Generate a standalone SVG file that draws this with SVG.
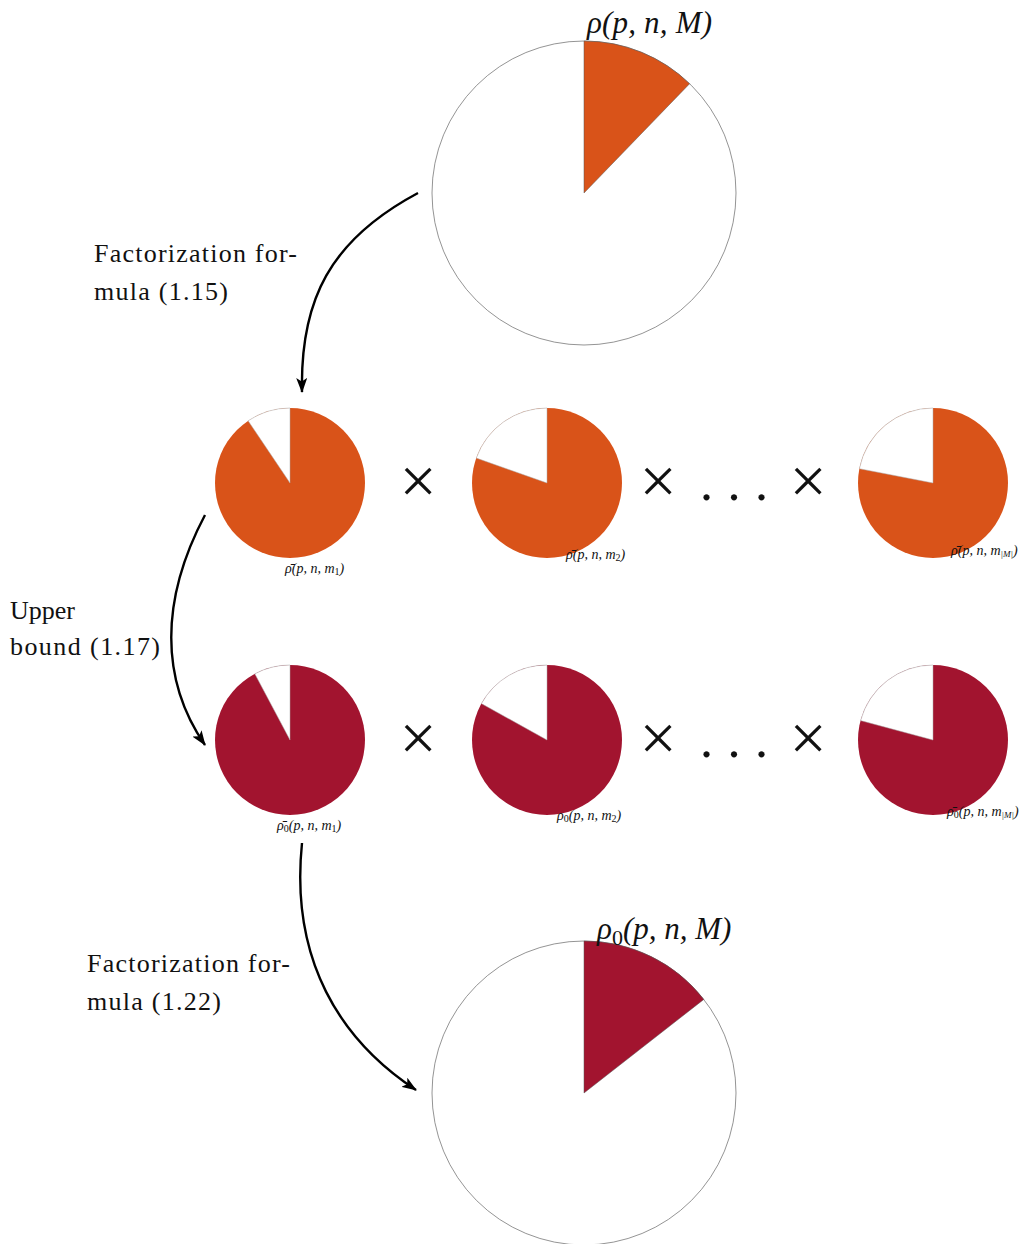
<svg xmlns="http://www.w3.org/2000/svg" width="1031" height="1244" viewBox="0 0 1031 1244">
<style>
.lbl{font-family:"Liberation Serif","DejaVu Serif",serif;font-size:26px;fill:#111}
.m{font-family:"Liberation Serif","DejaVu Serif",serif;font-style:italic;fill:#111}
.big{font-size:31px}
.sm{font-size:14px}
.up{font-style:normal}
.op{font-family:"Liberation Serif",serif;font-size:66px;fill:#111;text-anchor:middle}
.dots{font-family:"Liberation Serif",serif;font-size:52px;fill:#111}
.org{fill:#D95319}
.red{fill:#A2142F}
.wh{fill:#fff;stroke:#aaa;stroke-width:0.5}
.outline{fill:#fff;stroke:#666;stroke-width:0.7}
.conn{fill:none;stroke:#000;stroke-width:2.4}
</style>
<defs>
<marker id="ah" viewBox="0 0 15 11" refX="14" refY="5.5" markerWidth="15" markerHeight="11" markerUnits="userSpaceOnUse" orient="auto">
<path d="M0,0 L15,5.5 L0,11 L3.5,5.5 Z" fill="#000"/>
</marker>
</defs>

<g id="pie-top">
<circle class="outline" cx="584" cy="193" r="152"/>
<path class="org" d="M584,193 L584,41 A152,152 0 0 1 689.6,83.7 Z" stroke="#555" stroke-width="0.5"/>
<text class="m big" x="587" y="33" textLength="125">ρ(p, n, M)</text>
</g>

<g id="pie-r1-1">
<circle class="org" cx="290" cy="483" r="75"/>
<path class="wh" d="M290,483 L290,408 A75,75 0 0 0 248.1,420.8 Z"/>
<text class="m sm" x="285" y="573">ρ̄(p, n, m<tspan class="up" font-size="10" dy="2">1</tspan><tspan dy="-2">)</tspan></text>
</g>
<g id="pie-r1-2">
<circle class="org" cx="547" cy="483" r="75"/>
<path class="wh" d="M547,483 L547,408 A75,75 0 0 0 476.3,458.1 Z"/>
<text class="m sm" x="566" y="559">ρ̄(p, n, m<tspan class="up" font-size="10" dy="2">2</tspan><tspan dy="-2">)</tspan></text>
</g>
<g id="pie-r1-3">
<circle class="org" cx="933" cy="483" r="75"/>
<path class="wh" d="M933,483 L933,408 A75,75 0 0 0 859.4,468.7 Z"/>
<text class="m sm" x="951" y="555">ρ̄(p, n, m<tspan font-size="9" dy="2">|M|</tspan><tspan dy="-2">)</tspan></text>
</g>

<g id="ops-r1">
<text class="op" x="418" y="503">×</text>
<text class="op" x="658" y="503">×</text>
<text class="op" x="808" y="503">×</text>
<text class="dots" x="700" y="500" textLength="68">. . .</text>
</g>

<g id="pie-r2-1">
<circle class="red" cx="290" cy="740" r="75"/>
<path class="wh" d="M290,740 L290,665 A75,75 0 0 0 254.8,673.8 Z"/>
<text class="m sm" x="277" y="830">ρ̄<tspan class="up" font-size="10" dy="2">0</tspan><tspan dy="-2">(p, n, m</tspan><tspan class="up" font-size="10" dy="2">1</tspan><tspan dy="-2">)</tspan></text>
</g>
<g id="pie-r2-2">
<circle class="red" cx="547" cy="740" r="75"/>
<path class="wh" d="M547,740 L547,665 A75,75 0 0 0 481.4,703.6 Z"/>
<text class="m sm" x="557" y="820">ρ<tspan class="up" font-size="10" dy="2">0</tspan><tspan dy="-2">(p, n, m</tspan><tspan class="up" font-size="10" dy="2">2</tspan><tspan dy="-2">)</tspan></text>
</g>
<g id="pie-r2-3">
<circle class="red" cx="933" cy="740" r="75"/>
<path class="wh" d="M933,740 L933,665 A75,75 0 0 0 860.6,720.6 Z"/>
<text class="m sm" x="947" y="816">ρ̄<tspan class="up" font-size="10" dy="2">0</tspan><tspan dy="-2">(p, n, m</tspan><tspan font-size="9" dy="2">|M|</tspan><tspan dy="-2">)</tspan></text>
</g>

<g id="ops-r2">
<text class="op" x="418" y="760">×</text>
<text class="op" x="658" y="760">×</text>
<text class="op" x="808" y="760">×</text>
<text class="dots" x="700" y="757" textLength="68">. . .</text>
</g>

<g id="pie-bottom">
<circle class="outline" cx="584" cy="1093" r="152"/>
<path class="red" d="M584,1093 L584,941 A152,152 0 0 1 703.8,999.4 Z" stroke="#555" stroke-width="0.5"/>
<text class="m big" x="597" y="939">ρ<tspan class="up" font-size="22" dy="6">0</tspan><tspan dy="-6">(p, n, M)</tspan></text>
</g>

<g id="labels">
<text class="lbl" x="94" y="262" textLength="203">Factorization for-</text>
<text class="lbl" x="94" y="300" textLength="134">mula (1.15)</text>
<text class="lbl" x="10" y="619">Upper</text>
<text class="lbl" x="10" y="655" textLength="150">bound (1.17)</text>
<text class="lbl" x="87" y="972" textLength="203">Factorization for-</text>
<text class="lbl" x="87" y="1010" textLength="134">mula (1.22)</text>
</g>

<g id="connectors">
<path class="conn" marker-end="url(#ah)" d="M418,193 C330,240 300,300 302,392"/>
<path class="conn" marker-end="url(#ah)" d="M205,515 C160,600 160,680 205,745"/>
<path class="conn" marker-end="url(#ah)" d="M302,843 C290,960 340,1040 416,1090"/>
</g>
</svg>
